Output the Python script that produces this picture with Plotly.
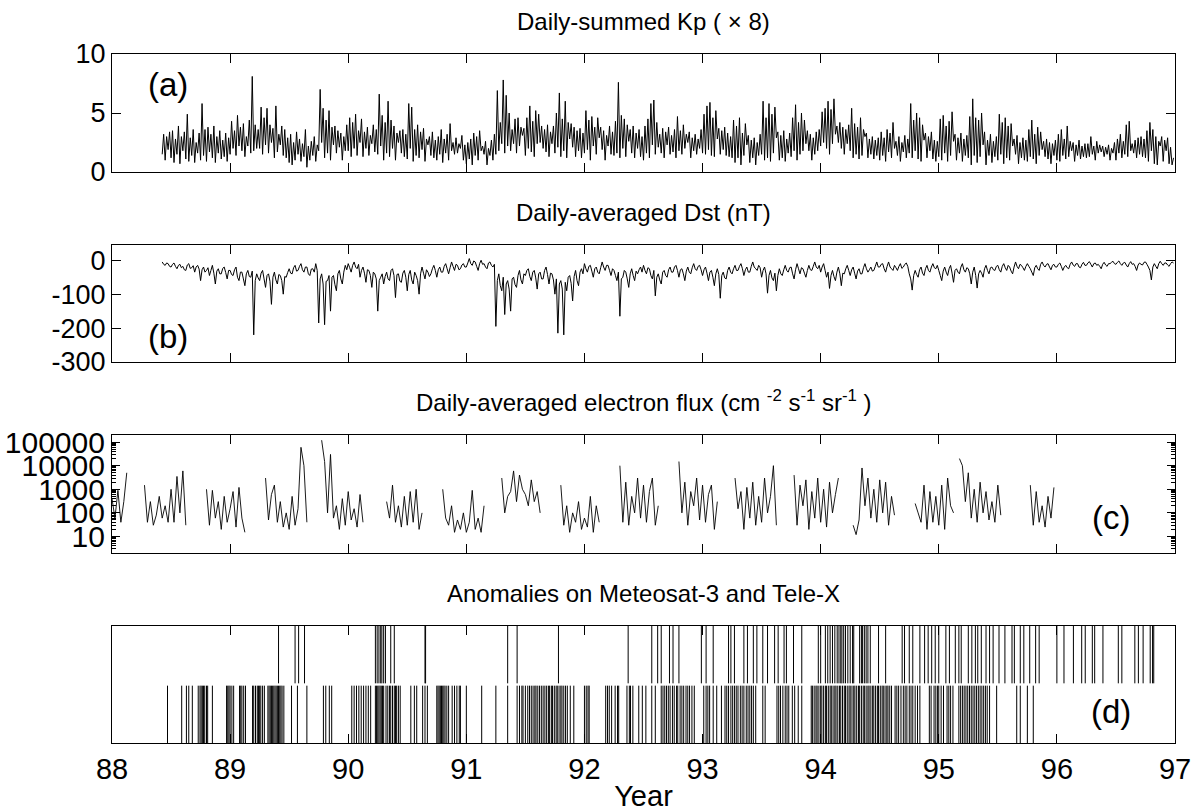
import plotly.graph_objects as go
from plotly.subplots import make_subplots

# ---------------- data ----------------
# (a) Daily-summed Kp (x8), sampled every 0.0125 yr starting at 88.425
kp_start = 88.425
kp_step = 0.0125
kp = [
    1.5, 3.2, 1.0, 3.0, 1.9, 3.4,
    1.2, 3.5, 0.8, 2.8, 1.5, 3.9, 0.7, 3.0, 1.8, 3.4, 1.1, 4.9, 0.9, 2.9, 1.4, 3.6, 0.8, 2.5, 1.6, 3.3,
    1.0, 5.8, 1.4, 3.6, 0.9, 3.8, 1.7, 3.2, 1.2, 3.9, 0.8, 3.0, 1.6, 3.5, 1.1, 2.7, 1.3, 3.3, 0.9, 2.9,
    1.5, 4.3, 2.0, 3.5, 1.4, 4.8, 2.2, 3.8, 1.8, 4.1, 1.3, 3.0, 2.2, 4.4, 1.6, 8.1, 1.8, 4.0, 2.0, 3.6,
    2.0, 5.5, 1.5, 4.6, 2.3, 5.4, 1.6, 4.0, 2.5, 3.7, 1.2, 5.6, 1.7, 3.2, 2.3, 3.9, 1.4, 3.6, 1.2, 2.9,
    0.8, 3.2, 0.6, 2.5, 1.0, 3.4, 1.5, 2.8, 0.9, 2.4, 1.3, 3.6, 0.4, 2.2, 1.0, 2.6, 1.4, 3.0, 0.9, 2.3,
    1.8, 7.0, 2.5, 5.4, 1.2, 4.4, 1.6, 5.2, 1.0, 3.8, 2.3, 3.9, 1.6, 3.5, 2.1, 3.3, 1.0, 3.0, 1.8, 4.0,
    1.8, 4.6, 1.3, 4.2, 2.0, 4.9, 1.4, 3.5, 2.5, 4.5, 1.3, 3.4, 2.0, 3.8, 1.4, 3.1, 2.4, 4.0, 1.7, 3.6,
    1.5, 6.6, 2.2, 4.8, 1.0, 4.2, 1.6, 6.0, 1.3, 4.4, 2.0, 3.9, 1.0, 3.3, 2.5, 3.5, 1.6, 3.6, 1.3, 3.2,
    1.1, 5.8, 2.0, 5.5, 0.9, 3.6, 1.4, 4.0, 1.2, 3.4, 1.9, 3.7, 0.9, 2.8, 2.3, 3.0, 1.4, 3.4, 1.2, 2.7,
    1.0, 3.0, 1.5, 3.6, 0.8, 2.8, 1.6, 3.2, 1.0, 4.1, 1.8, 2.5, 1.5, 2.9, 1.6, 2.4, 2.0, 3.1, 1.0, 2.3,
    0.7, 2.5, 1.1, 2.8, 0.6, 3.3, 1.4, 3.0, 1.0, 3.5, 1.8, 2.2, 1.5, 2.6, 0.6, 2.0, 1.4, 2.7, 1.0, 3.2,
    1.5, 6.9, 1.8, 4.2, 2.4, 7.8, 1.6, 6.5, 2.2, 5.0, 1.8, 3.6, 2.4, 4.5, 1.6, 4.6, 2.2, 3.8, 3.1, 3.7,
    1.4, 4.6, 2.0, 5.6, 1.7, 4.3, 1.3, 5.2, 2.4, 4.9, 2.5, 3.9, 2.0, 3.6, 1.7, 4.0, 1.3, 3.4, 2.4, 3.9,
    1.6, 5.0, 2.1, 6.7, 1.3, 4.5, 1.8, 6.0, 1.2, 4.2, 2.8, 4.1, 2.1, 3.8, 1.3, 3.5, 1.8, 3.7, 1.2, 3.3,
    1.6, 5.2, 1.9, 4.4, 1.0, 4.7, 2.2, 3.8, 1.5, 4.6, 2.9, 3.8, 1.9, 3.5, 1.0, 3.1, 2.2, 3.9, 1.5, 3.4,
    1.4, 4.3, 1.6, 7.6, 1.2, 4.8, 2.0, 4.5, 1.3, 4.0, 2.6, 3.6, 1.6, 3.9, 1.2, 3.3, 2.0, 3.6, 1.3, 3.0,
    1.0, 3.9, 1.6, 4.5, 1.2, 5.8, 2.3, 6.1, 1.5, 4.2, 2.1, 3.2, 1.6, 3.7, 1.2, 3.4, 2.3, 3.8, 1.5, 3.1,
    1.7, 3.6, 1.2, 4.7, 1.8, 3.5, 1.5, 4.0, 2.0, 3.2, 2.5, 3.4, 1.2, 2.9, 1.8, 3.2, 1.5, 2.8, 2.0, 3.6,
    1.6, 4.9, 1.5, 5.6, 1.9, 5.9, 1.4, 4.6, 1.3, 5.2, 2.8, 3.7, 1.5, 3.5, 1.9, 3.8, 1.4, 3.3, 1.3, 3.0,
    1.2, 4.4, 0.8, 3.9, 1.2, 4.6, 0.6, 3.3, 1.4, 4.1, 2.3, 3.1, 0.8, 2.7, 1.2, 2.9, 0.6, 2.5, 1.4, 3.2,
    1.5, 6.0, 1.0, 4.6, 1.2, 5.8, 0.9, 4.9, 1.6, 5.5, 2.9, 3.4, 1.0, 3.1, 1.2, 3.5, 0.9, 2.8, 1.6, 3.3,
    1.3, 4.6, 1.8, 5.7, 1.0, 4.2, 1.5, 5.0, 1.8, 4.4, 2.4, 3.5, 1.8, 3.2, 1.0, 2.9, 1.5, 3.4, 1.8, 3.6,
    2.2, 5.1, 2.5, 5.4, 2.0, 6.0, 1.5, 5.3, 2.4, 6.2, 3.2, 3.9, 2.5, 4.2, 2.0, 3.8, 1.5, 3.6, 2.4, 4.0,
    1.8, 5.4, 1.2, 4.1, 1.5, 3.8, 1.1, 4.6, 1.4, 3.6, 3.0, 3.3, 1.2, 2.8, 1.5, 3.0, 1.1, 2.7, 1.4, 2.9,
    1.0, 3.4, 1.4, 2.9, 0.9, 3.6, 1.7, 3.3, 1.2, 4.2, 2.0, 2.6, 1.4, 3.0, 0.9, 2.5, 1.7, 3.1, 1.2, 2.8,
    1.6, 5.8, 1.2, 4.4, 1.8, 5.0, 1.1, 4.6, 0.9, 4.0, 2.7, 3.3, 1.2, 3.0, 1.8, 3.4, 1.1, 2.7, 0.9, 2.6,
    1.3, 4.5, 1.0, 4.8, 1.6, 3.9, 0.9, 4.3, 1.4, 5.1, 2.6, 3.2, 1.0, 2.9, 1.6, 3.3, 0.9, 2.8, 1.4, 3.1,
    1.2, 4.7, 0.6, 6.2, 1.4, 4.6, 0.8, 4.4, 1.3, 5.0, 2.3, 3.4, 0.6, 2.7, 1.4, 3.2, 0.8, 2.6, 1.3, 3.0,
    1.0, 4.9, 1.5, 4.2, 0.7, 4.6, 1.2, 3.9, 1.0, 4.1, 2.2, 2.8, 1.5, 3.1, 0.7, 2.5, 1.2, 2.9, 1.0, 2.7,
    0.9, 3.6, 1.3, 4.4, 1.1, 3.2, 0.7, 3.8, 1.4, 3.4, 1.9, 2.6, 1.3, 2.8, 1.1, 2.5, 0.7, 2.4, 1.4, 2.7,
    1.0, 3.2, 0.9, 3.6, 1.4, 2.8, 1.1, 3.9, 1.3, 2.6, 1.8, 2.5, 0.9, 2.3, 1.4, 2.7, 1.1, 2.2, 1.3, 2.4,
    1.2, 2.4, 1.3, 3.0, 1.5, 2.2, 1.0, 2.6, 1.6, 2.3, 1.7, 2.2, 1.3, 2.1, 1.5, 2.3, 1.0, 2.0, 1.6, 2.5,
    1.0, 2.8, 1.6, 3.2, 1.2, 2.6, 1.5, 4.0, 1.3, 4.3, 1.8, 2.4, 1.6, 2.7, 1.2, 2.9, 1.5, 3.0, 1.3, 2.8,
    1.2, 3.5, 0.9, 4.2, 1.8, 3.6, 0.7, 3.0, 0.6, 2.6, 2.2, 3.0, 0.9, 2.7, 1.8, 2.9, 0.7, 2.1, 0.6, 1.2,
]

# (b) Daily-averaged Dst (nT), same sampling as Kp
dst_start = 88.425
dst_step = 0.0125
dst = [
    -5, -12, -15, -8, -10, -18,
    -20, -12, -8, -18, -25, -15, -12, -22, -18, -28, -30, -14, -10, -24, -22, -16, -35, -20, -15, -26,
    -60, -28, -20, -35, -30, -22, -45, -30, -15, -38, -70, -32, -25, -40, -40, -24, -20, -36, -55, -30,
    -30, -42, -45, -28, -20, -50, -60, -35, -35, -55, -75, -40, -30, -48, -50, -32, -220, -60, -40, -52,
    -60, -38, -30, -55, -80, -45, -40, -62, -130, -50, -35, -58, -70, -42, -45, -60, -100, -48, -50, -36,
    -25, -38, -40, -22, -15, -32, -30, -18, -10, -28, -35, -20, -20, -40, -45, -26, -25, -35, -10, -30,
    -185, -55, -40, -70, -190, -62, -60, -45, -150, -50, -45, -72, -90, -40, -30, -55, -70, -35, -15, -28,
    -10, -22, -35, -15, -5, -20, -25, -12, -50, -30, -20, -38, -65, -28, -30, -45, -80, -35, -40, -55,
    -150, -60, -50, -40, -70, -48, -35, -55, -60, -30, -25, -45, -110, -42, -40, -62, -65, -38, -30, -50,
    -90, -42, -30, -58, -70, -35, -45, -60, -100, -40, -20, -38, -55, -28, -35, -48, -40, -25, -15, -30,
    -50, -28, -20, -35, -35, -18, -10, -25, -40, -22, -5, -18, -30, -12, -15, -28, -25, -14, -10, -20,
    -20, -8, 5, -10, -15, -2, -5, -18, -30, -10, 0, -12, -10, -20, -25, -8, -5, -15, -20, -12,
    -195, -60, -40, -75, -90, -50, -160, -70, -60, -85, -150, -55, -50, -72, -80, -45, -30, -58, -70, -40,
    -45, -30, -25, -48, -60, -35, -30, -52, -85, -40, -35, -55, -55, -30, -20, -42, -70, -38, -40, -58,
    -100, -55, -215, -70, -60, -85, -220, -65, -90, -50, -45, -68, -120, -48, -30, -60, -75, -35, -25, -40,
    -10, -25, -35, -18, -15, -32, -50, -25, -20, -35, -40, -22, -5, -20, -30, -15, -15, -30, -45, -25,
    -30, -45, -60, -35, -165, -55, -50, -30, -35, -55, -80, -40, -25, -45, -60, -32, -40, -28, -20, -35,
    -15, -30, -40, -22, -25, -45, -55, -30, -105, -50, -40, -58, -70, -35, -30, -45, -50, -28, -20, -35,
    -35, -20, -15, -30, -50, -28, -25, -40, -60, -32, -20, -35, -40, -22, -10, -25, -30, -18, -15, -28,
    -45, -28, -20, -38, -60, -35, -30, -50, -75, -40, -25, -42, -112, -45, -35, -52, -55, -30, -20, -35,
    -40, -25, -15, -30, -30, -18, -10, -25, -45, -28, -20, -35, -35, -18, -5, -20, -25, -30, -15, -22,
    -50, -30, -20, -40, -97, -45, -30, -52, -60, -38, -90, -45, -25, -40, -45, -28, -15, -30, -35, -22,
    -20, -40, -55, -28, -10, -25, -40, -22, -25, -38, -50, -30, -15, -28, -30, -18, -5, -20, -25, -15,
    -35, -20, -10, -30, -50, -35, -83, -45, -30, -48, -60, -35, -20, -40, -75, -38, -40, -25, -15, -30,
    -45, -28, -20, -38, -55, -32, -25, -40, -40, -22, -10, -25, -35, -28, -20, -32, -30, -18, -5, -20,
    -20, -12, -10, -25, -35, -18, -5, -20, -25, -30, -15, -22, -30, -18, -10, -24, -20, -12, -8, -18,
    -40, -55, -88, -45, -30, -42, -50, -28, -20, -38, -45, -25, -15, -30, -35, -20, -10, -22, -25, -15,
    -30, -45, -60, -32, -20, -35, -45, -25, -15, -38, -65, -30, -25, -35, -40, -20, -10, -28, -35, -22,
    -25, -40, -70, -35, -20, -45, -82, -40, -30, -38, -50, -25, -15, -30, -40, -22, -20, -28, -30, -18,
    -15, -28, -35, -18, -10, -22, -30, -15, -20, -32, -40, -20, -5, -18, -25, -12, -15, -22, -30, -18,
    -10, -18, -25, -35, -45, -22, -15, -25, -30, -12, -5, -15, -20, -12, -10, -20, -28, -15, -12, -20,
    -20, -12, -8, -18, -30, -20, -15, -22, -25, -12, -5, -14, -18, -10, -10, -20, -22, -12, -6, -15,
    -15, -8, -4, -12, -20, -10, -8, -15, -12, -18, -25, -12, -6, -14, -18, -10, -10, -6, -3, -10,
    -12, -6, -2, -10, -15, -8, -6, -14, -20, -10, -4, -12, -10, -18, -30, -14, -8, -12, -14, -6,
    -5, -12, -20, -30, -58, -20, -10, -18, -25, -10, -3, -10, -15, -8, -8, -14, -18, -10, -5, -8,
]

# (c) Daily-averaged electron flux, every 0.025 yr from 88.0 (None = no data)
flux_start = 88.0
flux_step = 0.025
N = None
flux = [
    400, 60, 900, 40, 300, 5000, N, N, N, N,
    N, 1500, 40, 300, 30, 80, 500, 60, 200, 40,
    1000, 40, 3500, 100, 6000, 30, N, N, N, N,
    N, N, 1000, 30, 900, 60, 300, 20, 500, 40,
    150, 800, 25, 1200, 60, 15, N, N, N, N,
    N, N, 3000, 50, 600, 1500, 40, 300, 25, 100,
    20, 500, 30, 150, 60000, 10000, 40, N, N, N,
    N, 120000, 15000, 100, 30000, 60, 200, 20, 400, 30,
    800, 50, 150, 25, 600, 40, N, N, N, N,
    N, 2500, N, 300, 60, 1500, 40, 200, 25, 500,
    30, 800, 40, 1000, 20, 100, N, N, N, N,
    N, N, 1000, 60, 30, 200, 15, 50, 20, 100,
    15, 40, 900, 20, 60, 15, 200, N, N, N,
    N, N, 3000, 100, 500, 800, 6000, 300, 4000, 1000,
    600, 200, 2500, 300, 800, 100, N, N, N, N,
    N, N, 1500, 30, 200, 15, 100, 40, 300, 20,
    60, 25, 500, 15, 200, 40, N, N, N, N,
    N, N, 10000, 40, 2000, 30, 500, 100, 3000, 60,
    1500, 40, 800, 3000, 30, 200, N, N, N, N,
    N, N, 15000, 100, 2000, 30, 800, 200, 3000, 50,
    1500, 40, 600, 1500, 20, 300, N, N, N, N,
    N, 3000, 150, 800, 20, 1200, 60, 2000, 30, 500,
    40, 3000, 100, 500, 10000, 30, N, N, N, N,
    N, 4000, 30, 1500, 200, 2500, 20, 800, 60, 3000,
    40, 1000, 25, 2000, 100, 600, 3000, N, N, N,
    N, 30, 12, 50, 8000, 200, 3000, 60, 1000, 40,
    2500, 100, 2000, 30, 500, 80, N, N, N, N,
    N, N, 250, 100, 40, 1500, 20, 800, 40, 500,
    30, 1500, 20, 3000, 200, 100, N, 20000, 10000, 300,
    5000, 60, 1000, 40, 2000, 100, 800, 50, 300, 40,
    1500, 80, N, N, N, N, N, N, N, N,
    N, 1500, 30, 800, 40, 200, 25, 500, 60, 1200,
]

# (d) anomaly times (decimal year), upper row and lower row
anom_upper = [
    89.41, 89.55, 89.58, 89.63, 90.23, 90.245, 90.26, 90.275, 90.285, 90.30,
    90.315, 90.36, 90.39, 90.65, 90.655, 91.35, 91.43, 91.78,
    92.37, 92.57, 92.62, 92.65, 92.72, 92.75, 92.80, 92.99, 93.03, 93.09,
    93.22, 93.24, 93.27, 93.35, 93.38, 93.43, 93.46, 93.51, 93.55, 93.61,
    93.64, 93.69, 93.71, 93.77, 93.84, 93.98, 94.00, 94.04, 94.06, 94.08,
    94.10, 94.12, 94.14, 94.155, 94.17, 94.18, 94.195, 94.21, 94.23, 94.25,
    94.27, 94.28, 94.33, 94.345, 94.355, 94.37, 94.385, 94.40, 94.42, 94.49,
    94.55, 94.69, 94.71, 94.75, 94.78, 94.84, 94.88, 94.91, 94.94, 94.97,
    95.00, 95.06, 95.09, 95.14, 95.17, 95.19, 95.25, 95.28, 95.31, 95.33,
    95.36, 95.40, 95.43, 95.46, 95.51, 95.56, 95.62, 95.64, 95.69, 95.72,
    95.77, 95.82, 95.85, 96.00, 96.06, 96.14, 96.21, 96.24, 96.30, 96.32,
    96.39, 96.52, 96.55, 96.66, 96.69, 96.73, 96.79, 96.81, 96.82,
]
anom_lower = [
    88.47, 88.59, 88.63, 88.65, 88.68, 88.73, 88.745, 88.755, 88.765, 88.775,
    88.785, 88.80, 88.81, 88.85, 88.97, 88.98, 88.99, 89.00, 89.015, 89.03,
    89.08, 89.09, 89.10, 89.115, 89.13, 89.19, 89.20, 89.215, 89.23, 89.24,
    89.25, 89.26, 89.275, 89.29, 89.32, 89.33, 89.34, 89.35, 89.36, 89.37,
    89.38, 89.39, 89.40, 89.41, 89.42, 89.43, 89.44, 89.455, 89.52, 89.57,
    89.65, 89.79, 89.81, 89.84, 89.86, 90.03, 90.05, 90.07, 90.09, 90.11,
    90.13, 90.15, 90.17, 90.19, 90.23, 90.24, 90.25, 90.26, 90.27, 90.28,
    90.29, 90.30, 90.32, 90.335, 90.35, 90.36, 90.375, 90.39, 90.40, 90.41,
    90.425, 90.44, 90.53, 90.56, 90.58, 90.63, 90.65, 90.67, 90.75, 90.76,
    90.77, 90.78, 90.79, 90.80, 90.81, 90.82, 90.835, 90.85, 90.88, 90.90,
    90.92, 90.94, 90.95, 91.00, 91.13, 91.25, 91.35, 91.43, 91.45, 91.47,
    91.48, 91.50, 91.52, 91.535, 91.55, 91.565, 91.58, 91.59, 91.605, 91.62,
    91.635, 91.65, 91.665, 91.68, 91.695, 91.705, 91.72, 91.73, 91.745, 91.76,
    91.77, 91.785, 91.80, 91.81, 91.825, 91.84, 91.855, 91.88, 91.91, 92.00,
    92.015, 92.03, 92.04, 92.18, 92.195, 92.21, 92.23, 92.26, 92.28, 92.29,
    92.36, 92.38, 92.39, 92.41, 92.46, 92.49, 92.52, 92.57, 92.60, 92.65,
    92.665, 92.68, 92.695, 92.71, 92.725, 92.745, 92.76, 92.78, 92.79, 92.81,
    92.825, 92.84, 92.86, 92.875, 92.89, 92.91, 92.93, 93.01, 93.03, 93.045,
    93.06, 93.09, 93.12, 93.16, 93.19, 93.205, 93.22, 93.24, 93.255, 93.27,
    93.285, 93.30, 93.32, 93.335, 93.35, 93.37, 93.385, 93.40, 93.415, 93.43,
    93.45, 93.51, 93.53, 93.63, 93.645, 93.66, 93.68, 93.70, 93.715, 93.73,
    93.76, 93.78, 93.81, 93.84, 93.92, 93.93, 93.945, 93.96, 93.97, 93.985,
    94.00, 94.01, 94.025, 94.04, 94.05, 94.065, 94.08, 94.09, 94.105, 94.12,
    94.13, 94.145, 94.16, 94.17, 94.185, 94.20, 94.21, 94.225, 94.24, 94.25,
    94.265, 94.28, 94.29, 94.305, 94.32, 94.33, 94.345, 94.36, 94.37, 94.385,
    94.40, 94.41, 94.425, 94.44, 94.45, 94.465, 94.48, 94.49, 94.505, 94.52,
    94.53, 94.545, 94.56, 94.57, 94.585, 94.60, 94.63, 94.645, 94.66, 94.68,
    94.70, 94.715, 94.73, 94.75, 94.765, 94.78, 94.80, 94.82, 94.84, 94.92,
    94.935, 94.96, 94.975, 94.99, 95.00, 95.02, 95.04, 95.07, 95.085, 95.10,
    95.12, 95.17, 95.185, 95.20, 95.215, 95.23, 95.245, 95.26, 95.275, 95.29,
    95.305, 95.32, 95.335, 95.35, 95.365, 95.38, 95.395, 95.41, 95.43, 95.49,
    95.66, 95.69, 95.75, 95.80,
]

panel_titles = [
    "Daily-summed Kp ( \u00d7 8)",
    "Daily-averaged Dst (nT)",
    "Daily-averaged electron flux (cm <sup>-2</sup> s<sup>-1</sup> sr<sup>-1</sup> )",
    "Anomalies on Meteosat-3 and Tele-X",
]
panel_tags = ["(a)", "(b)", "(c)", "(d)"]
year_ticks = [88, 89, 90, 91, 92, 93, 94, 95, 96, 97]
kp_ticks = [0, 5, 10]
dst_ticks = [-300, -200, -100, 0]
dst_tick_text = ["-300", "-200", "-100", "0"]
flux_ticks = [10, 100, 1000, 10000, 100000]
flux_tick_text = ["10", "100", "1000", "10000", "100000"]

# ---------------- figure ----------------
W, H = 1198, 812
FONT = "Liberation Sans, Arial, Helvetica, sans-serif"
panel_px = [(54, 172), (245, 362), (435, 553), (626, 743)]
domains = [[1 - b / H, 1 - t / H] for (t, b) in panel_px]

fig = make_subplots(rows=4, cols=1)

kp_x = [kp_start + i * kp_step for i in range(len(kp))]
dst_x = [dst_start + i * dst_step for i in range(len(dst))]
flux_x = [flux_start + i * flux_step for i in range(len(flux))]

fig.add_trace(go.Scatter(x=kp_x, y=kp, mode="lines",
                         line=dict(color="black", width=1.0, simplify=False)), row=1, col=1)
fig.add_trace(go.Scatter(x=dst_x, y=dst, mode="lines",
                         line=dict(color="black", width=1.0, simplify=False)), row=2, col=1)
fig.add_trace(go.Scatter(x=flux_x, y=flux, mode="lines",
                         line=dict(color="black", width=0.9, simplify=False),
                         connectgaps=False), row=3, col=1)


def event_lines(times, y0, y1):
    xs, ys = [], []
    for t in times:
        xs += [t, t, None]
        ys += [y0, y1, None]
    return xs, ys


ux, uy = event_lines(anom_upper, 0.51, 1.0)
lx, ly = event_lines(anom_lower, 0.0, 0.49)
fig.add_trace(go.Scatter(x=ux, y=uy, mode="lines", line=dict(color="black", width=1)), row=4, col=1)
fig.add_trace(go.Scatter(x=lx, y=ly, mode="lines", line=dict(color="black", width=1)), row=4, col=1)

axis_common = dict(showline=True, linecolor="black", linewidth=1.2, mirror="ticks",
                   ticks="inside", tickcolor="black", showgrid=False, zeroline=False)

for i in range(4):
    n = "" if i == 0 else str(i + 1)
    fig.layout["xaxis" + n].update(
        domain=[0, 1], range=[88, 97], tickmode="array", tickvals=year_ticks,
        ticklen=9, showticklabels=(i == 3),
        tickfont=dict(family=FONT, size=29, color="black"), **axis_common)
    fig.layout["yaxis" + n].update(domain=domains[i], **axis_common)

fig.layout.yaxis.update(range=[0, 10], tickmode="array", tickvals=kp_ticks, ticklen=9,
                        tickfont=dict(family=FONT, size=27, color="black"))
fig.layout.yaxis2.update(range=[-300, 45], tickmode="array", tickvals=dst_ticks,
                         ticktext=dst_tick_text, ticklen=9,
                         tickfont=dict(family=FONT, size=27, color="black"))
minor_vals = [m * d for d in [1, 10, 100, 1000, 10000, 100000] for m in range(2, 10)]
fig.layout.yaxis3.update(type="log", range=[0.3, 5.3], tickmode="array", tickvals=flux_ticks,
                         ticktext=flux_tick_text, ticklen=8,
                         minor=dict(tickmode="array", tickvals=minor_vals, ticks="inside",
                                    ticklen=4, tickcolor="black", showgrid=False),
                         tickfont=dict(family=FONT, size=30, color="black"))
fig.layout.yaxis4.update(range=[0, 1], showticklabels=False, ticks="")

fig.layout.xaxis4.update(title=dict(text="Year", font=dict(family=FONT, size=29, color="black"),
                                    standoff=4))

annotations = []
for i in range(4):
    top = domains[i][1]
    annotations.append(dict(text=panel_titles[i], xref="paper", yref="paper", x=0.5, y=top,
                            xanchor="center", yanchor="bottom", yshift=17, showarrow=False,
                            font=dict(family=FONT, size=24, color="black")))
tag_pos = [(0.053, 0.74), (0.053, 0.22), (0.94, 0.30), (0.94, 0.27)]
for i in range(4):
    d0, d1 = domains[i]
    fx, fy = tag_pos[i]
    annotations.append(dict(text=panel_tags[i], xref="paper", yref="paper", x=fx,
                            y=d0 + fy * (d1 - d0), xanchor="center", yanchor="middle",
                            showarrow=False, font=dict(family=FONT, size=33, color="black")))

fig.update_layout(
    width=W, height=H, showlegend=False,
    margin=dict(l=112, r=23, t=0, b=0, autoexpand=False),
    paper_bgcolor="white", plot_bgcolor="white",
    annotations=annotations,
    font=dict(family=FONT, color="black"),
)

fig.write_html("out.html")
